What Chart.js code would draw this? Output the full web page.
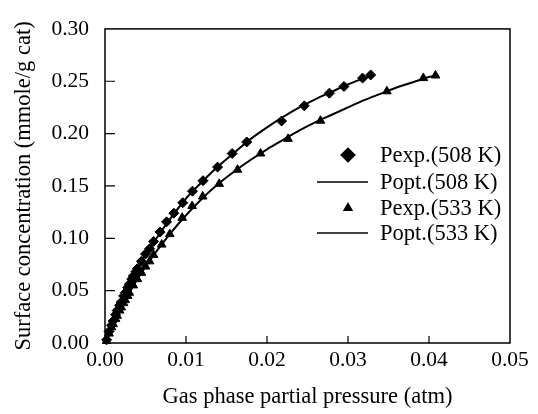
<!DOCTYPE html>
<html>
<head>
<meta charset="utf-8">
<script src="https://cdn.jsdelivr.net/npm/chart.js@4"></script>
<style>
  html, body { margin: 0; padding: 0; background: #fff; }
</style>
</head>
<body>
<canvas id="chart" width="538" height="414"></canvas>
<script>
// measured points, 508 K
const exp508X = [0.0002, 0.0005, 0.0008, 0.001, 0.0013, 0.0015, 0.0018, 0.002, 0.0023, 0.0025, 0.0028, 0.003, 0.0033, 0.0035, 0.0038, 0.004, 0.0045, 0.005, 0.0055, 0.006, 0.0068, 0.0076, 0.0085, 0.0096, 0.0108, 0.0121, 0.0139, 0.0157, 0.0175, 0.0218, 0.0246, 0.0277, 0.0295, 0.0318, 0.0328];
const exp508Y = [0.003, 0.011, 0.017, 0.021, 0.027, 0.031, 0.036, 0.039, 0.045, 0.048, 0.053, 0.056, 0.061, 0.064, 0.068, 0.071, 0.078, 0.085, 0.090, 0.097, 0.106, 0.1157, 0.124, 0.134, 0.145, 0.155, 0.168, 0.181, 0.192, 0.212, 0.2265, 0.2386, 0.245, 0.253, 0.256];
// fitted curve, 508 K
const opt508X = [0, 0.0005, 0.001, 0.002, 0.003, 0.004, 0.005, 0.006, 0.008, 0.010, 0.012, 0.014, 0.016, 0.018, 0.020, 0.022, 0.024, 0.026, 0.028, 0.030, 0.032, 0.033];
const opt508Y = [0, 0.012, 0.022, 0.040, 0.057, 0.071, 0.084, 0.096, 0.118, 0.138, 0.154, 0.169, 0.182, 0.195, 0.206, 0.216, 0.225, 0.233, 0.240, 0.247, 0.253, 0.256];
// measured points, 533 K
const exp533X = [0.0002, 0.0005, 0.0008, 0.001, 0.0013, 0.0015, 0.0018, 0.002, 0.0023, 0.0025, 0.0028, 0.003, 0.0035, 0.004, 0.0045, 0.005, 0.0055, 0.006, 0.007, 0.008, 0.00953, 0.01076, 0.01206, 0.0141, 0.01636, 0.0192, 0.0226, 0.0266, 0.0348, 0.0393, 0.0408];
const exp533Y = [0.002, 0.009, 0.015, 0.018, 0.023, 0.026, 0.031, 0.034, 0.038, 0.041, 0.045, 0.048, 0.055, 0.061, 0.067, 0.073, 0.078, 0.084, 0.094, 0.104, 0.1196, 0.1308, 0.1399, 0.152, 0.1655, 0.181, 0.195, 0.2123, 0.2404, 0.253, 0.2555];
// fitted curve, 533 K
const opt533X = [0, 0.0005, 0.001, 0.002, 0.003, 0.004, 0.005, 0.006, 0.008, 0.010, 0.012, 0.014, 0.016, 0.018, 0.020, 0.022, 0.024, 0.026, 0.028, 0.030, 0.032, 0.034, 0.036, 0.038, 0.040, 0.041];
const opt533Y = [0, 0.010, 0.018, 0.034, 0.048, 0.061, 0.073, 0.084, 0.104, 0.122, 0.138, 0.152, 0.164, 0.175, 0.185, 0.194, 0.203, 0.211, 0.218, 0.225, 0.232, 0.238, 0.244, 0.249, 0.254, 0.256];

const xTicks = [0, 0.01, 0.02, 0.03, 0.04, 0.05];
const yTicks = [0, 0.05, 0.10, 0.15, 0.20, 0.25, 0.30];

const serif = 'Liberation Serif, Times New Roman, serif';
const pts = (xs, ys) => xs.map((x, i) => ({ x: x, y: ys[i] }));

const legendItems = [
    { text: 'Pexp.(508 K)', style: 'rectRot', r: 7 },
    { text: 'Popt.(508 K)', style: 'line' },
    { text: 'Pexp.(533 K)', style: 'triangle', r: 4.5 },
    { text: 'Popt.(533 K)', style: 'line' }
];

const framePlugin = {
    id: 'frame',
    afterDraw(chart) {
        const { ctx, chartArea: a, scales: { x, y } } = chart;
        ctx.save();
        ctx.strokeStyle = '#000';
        ctx.lineWidth = 1.5;
        ctx.strokeRect(a.left, a.top, a.right - a.left, a.bottom - a.top);

        // ticks point inward
        ctx.lineWidth = 1.2;
        ctx.beginPath();
        yTicks.slice(1, -1).forEach(v => {
            const py = y.getPixelForValue(v);
            ctx.moveTo(a.left, py);
            ctx.lineTo(a.left + 10, py);
        });
        xTicks.slice(1, -1).forEach(v => {
            const px = x.getPixelForValue(v);
            ctx.moveTo(px, a.bottom);
            ctx.lineTo(px, a.bottom - 7);
        });
        ctx.stroke();

        // legend
        ctx.fillStyle = '#000';
        ctx.font = '22.5px ' + serif;
        ctx.textBaseline = 'middle';
        const rows = [155, 182, 208, 233];
        legendItems.forEach((item, i) => {
            const ry = rows[i];
            if (item.style === 'line') {
                ctx.lineWidth = 1.5;
                ctx.beginPath();
                ctx.moveTo(317, ry);
                ctx.lineTo(368, ry);
                ctx.stroke();
            } else {
                Chart.helpers.drawPoint(ctx, { pointStyle: item.style, radius: item.r, rotation: 0, borderWidth: 1 }, 348, ry);
            }
            ctx.fillText(item.text, 380, ry + 1);
        });
        ctx.restore();
    }
};

new Chart(document.getElementById('chart'), {
    type: 'scatter',
    data: {
        datasets: [{
            label: 'Pexp.(508 K)',
            data: pts(exp508X, exp508Y),
            pointStyle: 'rectRot',
            pointRadius: 5,
            backgroundColor: '#000',
            borderColor: '#000',
            clip: false
        }, {
            label: 'Popt.(508 K)',
            data: pts(opt508X, opt508Y),
            showLine: true,
            pointRadius: 0,
            borderColor: '#000',
            borderWidth: 2,
            cubicInterpolationMode: 'monotone'
        }, {
            label: 'Pexp.(533 K)',
            data: pts(exp533X, exp533Y),
            pointStyle: 'triangle',
            pointRadius: 5,
            backgroundColor: '#000',
            borderColor: '#000',
            clip: false
        }, {
            label: 'Popt.(533 K)',
            data: pts(opt533X, opt533Y),
            showLine: true,
            pointRadius: 0,
            borderColor: '#000',
            borderWidth: 2,
            cubicInterpolationMode: 'monotone'
        }]
    },
    options: {
        responsive: false,
        animation: false,
        layout: { padding: { top: 12, right: 28, bottom: 0, left: 0 } },
        scales: {
            x: {
                type: 'linear',
                min: 0,
                max: 0.05,
                afterBuildTicks: s => { s.ticks = xTicks.map(v => ({ value: v })); },
                afterFit: s => { s.height = 71; },
                grid: { display: false, drawTicks: false },
                border: { display: false },
                ticks: {
                    color: '#000',
                    padding: 4,
                    font: { family: serif, size: 21.5 },
                    callback: v => v.toFixed(2)
                },
                title: {
                    display: true,
                    text: 'Gas phase partial pressure (atm)',
                    color: '#000',
                    font: { family: serif, size: 22.5 },
                    padding: { top: 0, bottom: 3 }
                }
            },
            y: {
                min: 0,
                max: 0.30,
                afterBuildTicks: s => { s.ticks = yTicks.map(v => ({ value: v })); },
                afterFit: s => { s.width = 105; },
                grid: { display: false, drawTicks: false },
                border: { display: false },
                ticks: {
                    color: '#000',
                    padding: 16,
                    font: { family: serif, size: 21.5 },
                    callback: v => v.toFixed(2)
                },
                title: {
                    display: true,
                    text: 'Surface concentration (mmole/g cat)',
                    color: '#000',
                    font: { family: serif, size: 22.5 },
                    padding: { top: 11, bottom: 0 }
                }
            }
        },
        plugins: {
            legend: { display: false },
            tooltip: { enabled: false }
        }
    },
    plugins: [framePlugin]
});
</script>
</body>
</html>
